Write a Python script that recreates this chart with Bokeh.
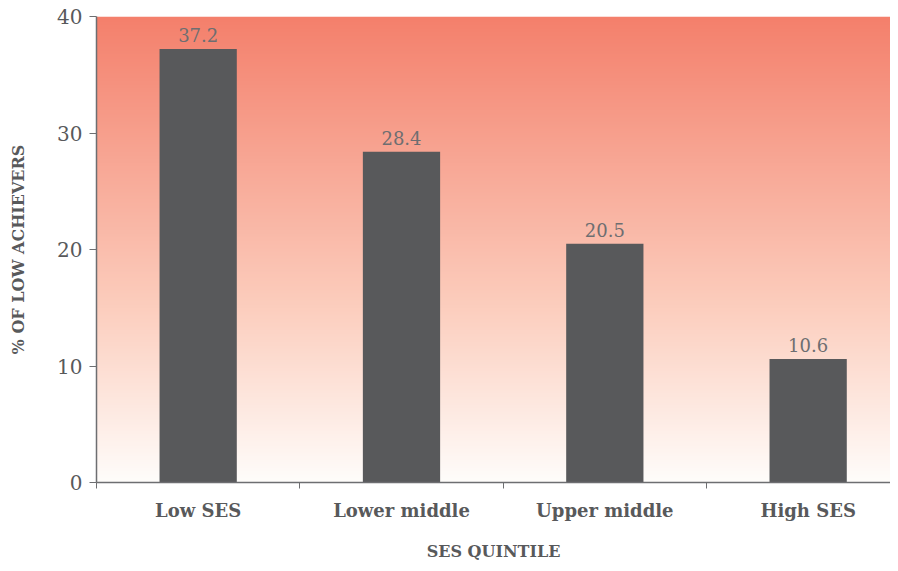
import numpy as np
from bokeh.plotting import figure
from bokeh.models import ColumnDataSource, FixedTicker, Range1d
from bokeh.embed import file_html
from bokeh.resources import INLINE
from bokeh.core.properties import value

# ---- data ----
categories = ["Low SES", "Lower middle", "Upper middle", "High SES"]
pct_low_achievers = [37.2, 28.4, 20.5, 10.6]
y_ticks = [0, 10, 20, 30, 40]
x_title = "SES QUINTILE"
y_title = "% OF LOW ACHIEVERS"

FONT = "DejaVu Serif"
TEXT = "#58595B"
AXIS = "#6d6e71"

x_pos = [i + 0.5 for i in range(len(categories))]
src = ColumnDataSource(dict(
    x=x_pos,
    top=pct_low_achievers,
    label=[f"{v:.1f}" for v in pct_low_achievers],
))

p = figure(width=890, height=563, output_backend="svg", toolbar_location=None,
           x_range=Range1d(0, 3.905), y_range=Range1d(0, 40),
           min_border_left=96, min_border_right=0, min_border_top=16,
           min_border_bottom=81)
p.outline_line_color = None
p.xgrid.visible = False
p.ygrid.visible = False
p.background_fill_color = "white"

# ---- gradient background (decoration) ----
n = 400
t = np.linspace(0, 40, n)
stops_v = [0, 15, 40]
stops_r = [255, 252, 244]
stops_g = [253, 206, 128]
stops_b = [251, 190, 108]
img = np.zeros((n, 1), dtype=np.uint32)
view = img.view(dtype=np.uint8).reshape((n, 1, 4))
view[:, 0, 0] = np.interp(t, stops_v, stops_r).astype(np.uint8)
view[:, 0, 1] = np.interp(t, stops_v, stops_g).astype(np.uint8)
view[:, 0, 2] = np.interp(t, stops_v, stops_b).astype(np.uint8)
view[:, 0, 3] = 255
p.image_rgba(image=[img], x=0, y=0, dw=4, dh=40)

# ---- bars ----
p.vbar(x="x", top="top", bottom=0, width=0.38, source=src,
       fill_color="#58595B", line_color=None)

p.text(x="x", y="top", text="label", source=src, text_align="center",
       text_baseline="bottom", y_offset=-7, text_font=value(FONT),
       text_font_size="18px", text_color=AXIS)

# ---- x axis ----
xa = p.xaxis[0]
xa.ticker = FixedTicker(ticks=x_pos, minor_ticks=[0, 1, 2, 3, 4])
xa.major_label_overrides = {x: c for x, c in zip(x_pos, categories)}
xa.major_tick_out = 0
xa.major_tick_in = 0
xa.minor_tick_out = 6
xa.minor_tick_in = 0
xa.minor_tick_line_color = AXIS
xa.axis_line_color = AXIS
xa.axis_line_width = 1.5
xa.major_label_standoff = 11
xa.major_label_text_font = FONT
xa.major_label_text_font_style = "bold"
xa.major_label_text_font_size = "18px"
xa.major_label_text_color = TEXT
xa.axis_label = x_title
xa.axis_label_text_font = FONT
xa.axis_label_text_font_style = "bold"
xa.axis_label_text_font_size = "16px"
xa.axis_label_text_color = TEXT
xa.axis_label_standoff = 18

# ---- y axis ----
ya = p.yaxis[0]
ya.ticker = FixedTicker(ticks=y_ticks)
ya.major_tick_out = 7
ya.major_tick_in = 0
ya.minor_tick_out = 0
ya.minor_tick_in = 0
ya.major_tick_line_color = AXIS
ya.axis_line_color = AXIS
ya.axis_line_width = 1.5
ya.major_label_standoff = 7
ya.major_label_text_font = FONT
ya.major_label_text_font_size = "20px"
ya.major_label_text_color = TEXT
ya.axis_label = y_title
ya.axis_label_text_font = FONT
ya.axis_label_text_font_style = "bold"
ya.axis_label_text_font_size = "16px"
ya.axis_label_text_color = TEXT
ya.axis_label_standoff = 26

open("out.html", "w").write(file_html(p, INLINE))
